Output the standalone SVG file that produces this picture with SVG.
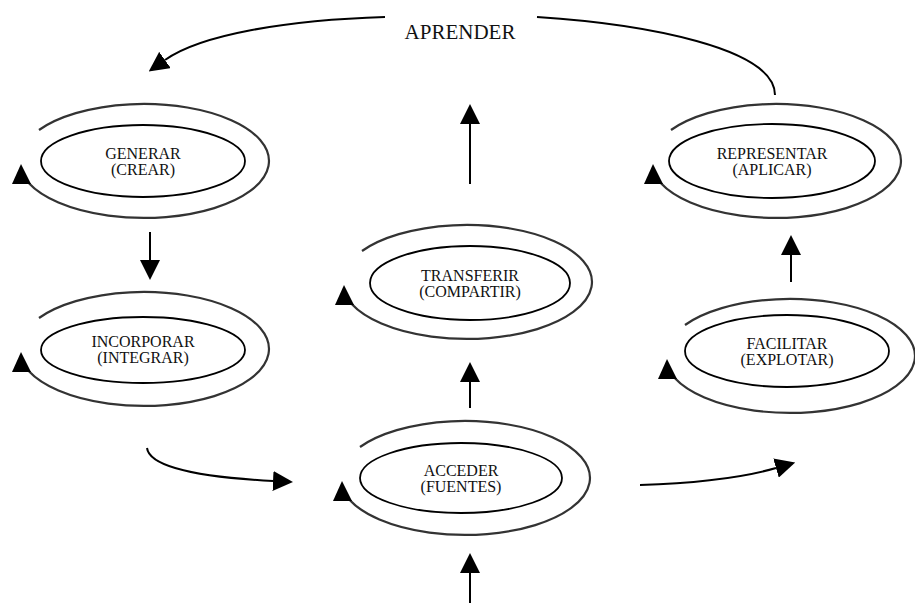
<svg xmlns="http://www.w3.org/2000/svg" width="915" height="603" viewBox="0 0 915 603">
  <style>
    .ring { fill: none; stroke: #333; stroke-width: 2.2; }
    .core { fill: #fff; stroke: #000; stroke-width: 1.8; }
    .lbl { font-family: "Liberation Serif", "Times New Roman", serif; font-size: 16px; fill: #111; text-anchor: middle; }
    .big { font-size: 21px; }
    .wire { fill: none; stroke: #000; stroke-width: 2; }
    .head { fill: #000; }
  </style>
  <defs>
    <!-- open cycle ring with an upward arrowhead on its left side -->
    <g id="ring">
      <path class="ring" d="M-105,-31 A125,57 0 1 1 -115.3,22"/>
      <polygon class="head" points="-123,3 -132,23 -113,23"/>
    </g>
    <marker id="ah" markerUnits="userSpaceOnUse" viewBox="0 0 20 20" markerWidth="20" markerHeight="20" refX="0" refY="10" orient="auto">
      <path d="M0,0 L20,10 L0,20 z" fill="#000"/>
    </marker>
  </defs>

  <g id="n-generar">
    <use href="#ring" x="144" y="161"/>
    <ellipse class="core" cx="143" cy="161" rx="102" ry="36"/>
    <text class="lbl" x="143" y="159">GENERAR</text>
    <text class="lbl" x="143" y="175">(CREAR)</text>
  </g>

  <g id="n-incorporar">
    <use href="#ring" x="144" y="349"/>
    <ellipse class="core" cx="143" cy="350" rx="102" ry="33"/>
    <text class="lbl" x="143" y="347">INCORPORAR</text>
    <text class="lbl" x="143" y="363">(INTEGRAR)</text>
  </g>

  <g id="n-transferir">
    <use href="#ring" x="467" y="282"/>
    <ellipse class="core" cx="470" cy="283" rx="100" ry="37"/>
    <text class="lbl" x="470" y="281">TRANSFERIR</text>
    <text class="lbl" x="470" y="297">(COMPARTIR)</text>
  </g>

  <g id="n-acceder">
    <use href="#ring" x="465" y="478"/>
    <ellipse class="core" cx="461" cy="478" rx="101" ry="35"/>
    <text class="lbl" x="461" y="476">ACCEDER</text>
    <text class="lbl" x="461" y="492">(FUENTES)</text>
  </g>

  <g id="n-representar">
    <use href="#ring" x="776" y="161"/>
    <ellipse class="core" cx="772" cy="161" rx="103" ry="37"/>
    <text class="lbl" x="772" y="159">REPRESENTAR</text>
    <text class="lbl" x="772" y="175">(APLICAR)</text>
  </g>

  <g id="n-facilitar">
    <use href="#ring" x="790" y="356"/>
    <ellipse class="core" cx="787" cy="351" rx="102" ry="36"/>
    <text class="lbl" x="787" y="349">FACILITAR</text>
    <text class="lbl" x="787" y="365">(EXPLOTAR)</text>
  </g>

  <text class="lbl big" x="460" y="39">APRENDER</text>

  <g id="connectors">
    <!-- generar to incorporar -->
    <path class="wire" d="M150,232 L150,260" marker-end="url(#ah)"/>
    <!-- incorporar to acceder -->
    <path class="wire" d="M147,448 C149,463 180,476 273,481" marker-end="url(#ah)"/>
    <!-- acceder to facilitar -->
    <path class="wire" d="M640,485 C700,483 745,477 776,468" marker-end="url(#ah)"/>
    <!-- acceder to transferir -->
    <path class="wire" d="M470,408 L470,382" marker-end="url(#ah)"/>
    <!-- transferir upwards -->
    <path class="wire" d="M470,184 L470,124" marker-end="url(#ah)"/>
    <!-- facilitar to representar -->
    <path class="wire" d="M791,282 L791,255" marker-end="url(#ah)"/>
    <!-- input into acceder -->
    <path class="wire" d="M470,603 L470,573" marker-end="url(#ah)"/>
    <!-- aprender loop -->
    <path class="wire" d="M385,17 C285,20 200,35 165,60" marker-end="url(#ah)"/>
    <path class="wire" d="M537,17 C645,24 775,48 775,95"/>
  </g>
</svg>
